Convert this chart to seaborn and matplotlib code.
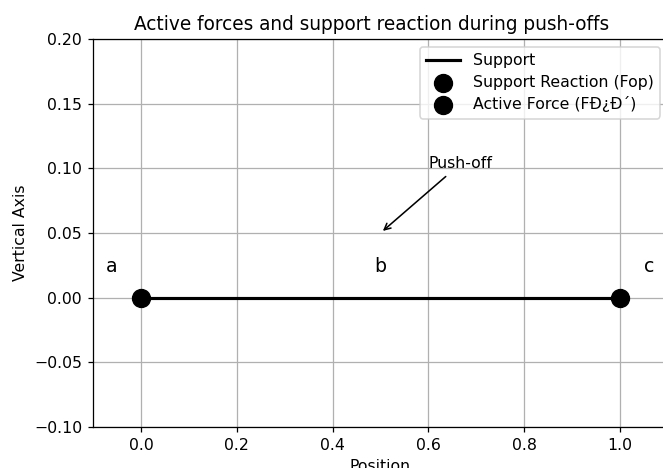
import matplotlib
matplotlib.use("Agg")
import matplotlib.pyplot as plt
import seaborn as sns
import pandas as pd

# Support segment and the two force points
support_x = [0.0, 1.0]
support_y = [0.0, 0.0]
reaction_x = [0.0]
reaction_y = [0.0]
active_x = [1.0]
active_y = [0.0]

# Phase labels along the support
phase_labels = ["a", "b", "c"]
phase_x = [-0.06, 0.5, 1.06]
phase_y = [0.02, 0.02, 0.02]

xticks = [0.0, 0.2, 0.4, 0.6, 0.8, 1.0]
yticks = [-0.10, -0.05, 0.00, 0.05, 0.10, 0.15, 0.20]

plt.rcParams["font.family"] = ["DejaVu Sans"]

dpi = 113
fig = plt.figure(figsize=(663 / dpi, 468 / dpi), dpi=dpi)
ax = fig.add_axes([0.1403, 0.0876, 0.8672, 0.8291])

support_df = pd.DataFrame({"x": support_x, "y": support_y})
sns.lineplot(data=support_df, x="x", y="y", color="black", linewidth=2,
             label="Support", ax=ax, zorder=2)
sns.scatterplot(x=reaction_x, y=reaction_y, color="black", s=130,
                edgecolor="black", label="Support Reaction (Fop)", ax=ax, zorder=3)
sns.scatterplot(x=active_x, y=active_y, color="black", s=130,
                edgecolor="black", label="Active Force (F\u00d0\u00bf\u00d0\u00b4)", ax=ax, zorder=3)

for lab, px, py in zip(phase_labels, phase_x, phase_y):
    ax.text(px, py, lab, fontsize=12, ha="center")

ax.annotate("Push-off", xy=(0.5, 0.05), xytext=(0.6, 0.1),
            arrowprops=dict(arrowstyle="->", color="black"))

ax.set_xlim(-0.1, 1.1)
ax.set_ylim(-0.1, 0.2)
ax.set_xticks(xticks)
ax.set_yticks(yticks)
ax.grid(True, color="#b0b0b0", linewidth=0.8)
ax.set_axisbelow(True)
ax.set_xlabel("Position")
ax.set_ylabel("Vertical Axis")
ax.set_title("Active forces and support reaction during push-offs",
             x=0.484, fontsize=11.8)
ax.legend(loc="upper right", handlelength=2.2, labelspacing=0.42)

fig.savefig("out.png", dpi=dpi)
